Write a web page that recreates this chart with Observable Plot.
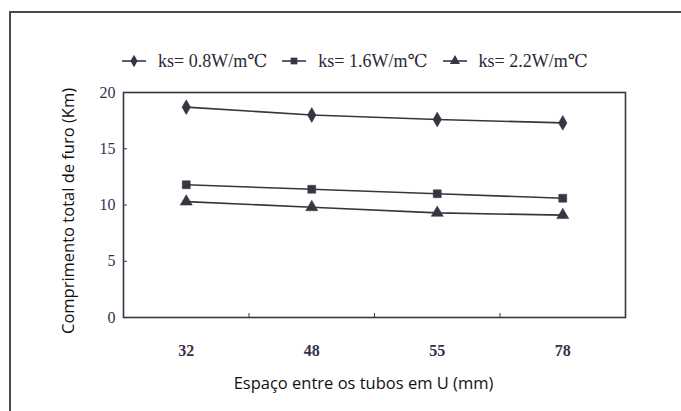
<!DOCTYPE html>
<html>
<head>
<meta charset="utf-8">
<script src="https://cdn.jsdelivr.net/npm/d3@7"></script>
<script src="https://cdn.jsdelivr.net/npm/@observablehq/plot@0.6"></script>
<style>
  html, body { margin: 0; padding: 0; background: #fff; }
  #wrap { position: relative; width: 681px; height: 411px; overflow: hidden; background: #fff; }
  #border { position: absolute; left: 9px; top: 11px; right: -4px; bottom: -4px; border-top: 2px solid #4a4a52; border-left: 2px solid #4a4a52; }
  #legend { position: absolute; left: 122px; top: 50px; display: flex; align-items: center; font-family: "Liberation Serif", "DejaVu Serif", serif; font-size: 18px; color: #2e2636; }
  .item { display: flex; align-items: center; margin-right: 15px; }
  .item svg { margin-right: 12px; }
</style>
</head>
<body>
<div id="wrap">
  <div id="border"></div>
  <div id="legend"></div>
</div>
<script>
const categories = ["32", "48", "55", "78"];
const seriesNames = ["ks= 0.8W/m℃", "ks= 1.6W/m℃", "ks= 2.2W/m℃"];
const seriesSymbols = ["diamond", "square", "triangle"];
const ks08 = [18.7, 18.0, 17.6, 17.3];
const ks16 = [11.8, 11.4, 11.0, 10.6];
const ks22 = [10.3, 9.8, 9.3, 9.1];
const yTicks = [0, 5, 10, 15, 20];
const xLabel = "Espaço entre os tubos em U (mm)";
const yLabel = "Comprimento total de furo (Km)";

const allSeries = [ks08, ks16, ks22];
const data = [];
allSeries.forEach((vals, s) => vals.forEach((v, i) => data.push({i, v, s: seriesNames[s], sym: seriesSymbols[s]})));

const ink = "#3a3442";
const labelInk = "#3b2d4c";

const chart = Plot.plot({
  width: 681,
  height: 411,
  marginLeft: 123,
  marginRight: 56,
  marginTop: 92,
  marginBottom: 94,
  style: { fontFamily: "Liberation Serif, DejaVu Serif, serif", fontSize: "16px", background: "transparent", overflow: "visible" },
  x: { domain: [-0.5, categories.length - 0.5], axis: null },
  y: { domain: [0, 20], axis: null },
  symbol: { domain: seriesSymbols, range: seriesSymbols },
  marks: [
    Plot.frame({ stroke: ink, strokeWidth: 1.6 }),
    Plot.axisY({ ticks: yTicks, tickSize: 0, tickPadding: 8, tickFormat: d => String(d), fill: labelInk, fontSize: 16, label: null }),
    Plot.axisY({ ticks: [5, 10, 15], tickSize: -4, tickFormat: () => "", stroke: ink, label: null }),
    Plot.axisX({ ticks: d3.range(categories.length), tickSize: 0, tickPadding: 27, tickFormat: i => categories[i], fill: labelInk, fontSize: 16, fontWeight: "bold", label: null }),
    Plot.axisX({ ticks: d3.range(categories.length - 1).map(i => i + 0.5), tickSize: -4, tickFormat: () => "", stroke: ink, label: null }),
    Plot.line(data, { x: "i", y: "v", z: "s", stroke: ink, strokeWidth: 1.6 }),
    Plot.dot(data, { x: "i", y: "v", symbol: "sym", fill: ink, stroke: ink, strokeWidth: 0.5, r: 4.5 }),
    Plot.text([yLabel], { frameAnchor: "left", textAnchor: "middle", lineAnchor: "middle", rotate: -90, dx: -55, dy: 6, fontFamily: "Open Sans, Liberation Sans, sans-serif", fontSize: 16.5, fill: "#111" }),
    Plot.text([xLabel], { frameAnchor: "bottom", textAnchor: "middle", lineAnchor: "middle", dx: -11, dy: 66, fontFamily: "Open Sans, Liberation Sans, sans-serif", fontSize: 16.5, fill: "#111" })
  ]
});
document.getElementById("wrap").appendChild(chart);
chart.style.position = "absolute";
chart.style.left = "0";
chart.style.top = "0";

// legend
const legend = document.getElementById("legend");
seriesNames.forEach((name, k) => {
  const item = document.createElement("div");
  item.className = "item";
  const sym = d3.symbol(d3["symbol" + seriesSymbols[k][0].toUpperCase() + seriesSymbols[k].slice(1)], 45)();
  item.innerHTML = `<svg width="24" height="12"><line x1="0" x2="24" y1="6" y2="6" stroke="${ink}" stroke-width="1.6"/><path d="${sym}" transform="translate(12,6)" fill="${ink}"/></svg><span>${name}</span>`;
  legend.appendChild(item);
});
</script>
</body>
</html>
